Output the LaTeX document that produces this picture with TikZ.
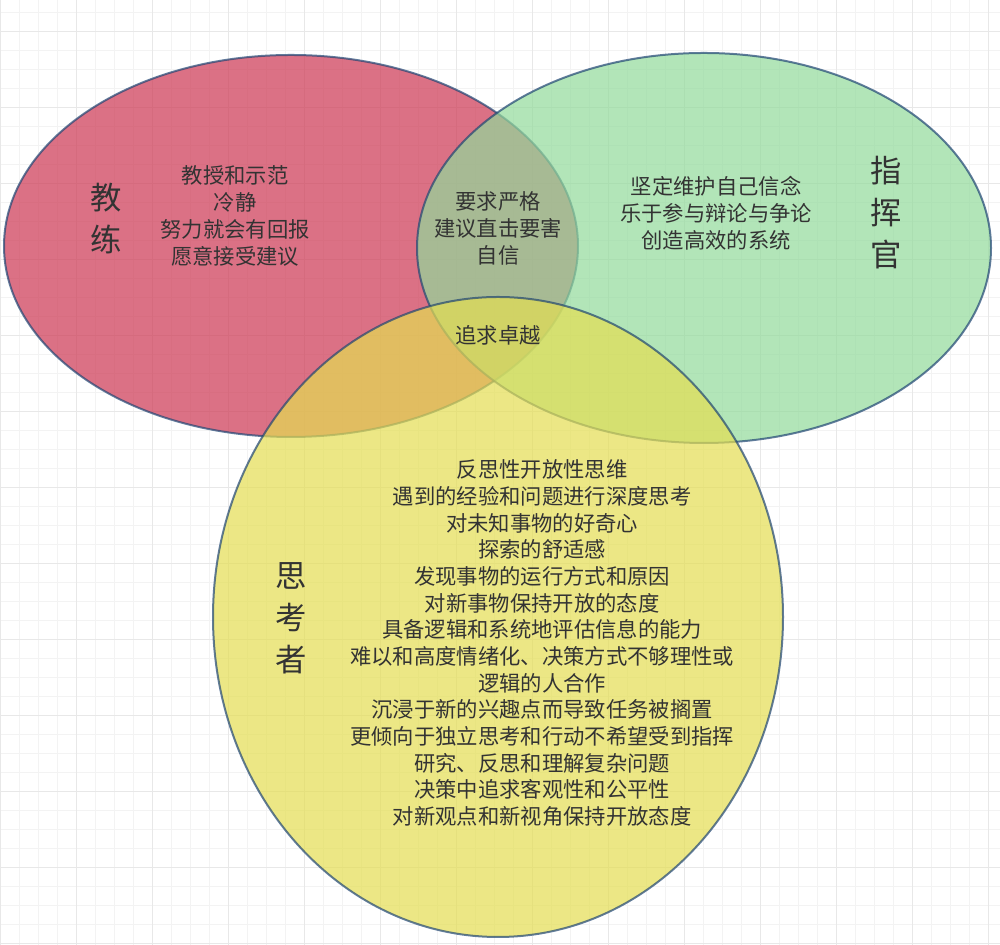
\documentclass[tikz,border=0pt]{standalone}
\usepackage{fontspec}
\setmainfont{Noto Sans CJK SC}
\usetikzlibrary{shapes.geometric,positioning}
\definecolor{coachred}{HTML}{CD3652}
\definecolor{cmdgreen}{HTML}{92DA9B}
\definecolor{thinkyellow}{HTML}{E4DE52}
\definecolor{rimblue}{HTML}{1F4573}
\definecolor{textgray}{HTML}{333333}
\definecolor{gridminor}{HTML}{F3F3F3}
\definecolor{gridmajor}{HTML}{E8E8E8}
\tikzset{
  setblob/.style={
    ellipse,
    draw=rimblue,
    line width=1.5pt,
    opacity=0.7,
    inner sep=0pt
  },
  roletitle/.style={
    text=textgray,
    align=center,
    font=\fontsize{23.5}{31.5}\selectfont
  },
  traits/.style={
    text=textgray,
    align=center,
    font=\fontsize{16}{20.2}\selectfont
  }
}

\begin{document}
\begin{tikzpicture}[x=0.75pt, y=0.75pt]
    \useasboundingbox (0,0) rectangle (1000,945);
    \fill[white] (0,0) rectangle (1000,945);
    % background grid
    \foreach \x in {0,19,...,1000}
      \draw[gridminor, line width=0.75pt] (\x,0) -- (\x,945);
    \foreach \y in {1,20,...,945}
      \draw[gridminor, line width=0.75pt] (0,\y) -- (1000,\y);
    \foreach \x in {0,76,...,1000}
      \draw[gridmajor, line width=0.75pt] (\x,0) -- (\x,945);
    \foreach \y in {1,77,...,945}
      \draw[gridmajor, line width=0.75pt] (0,\y) -- (1000,\y);
    % the three sets
    \node[setblob, fill=coachred, minimum width=430.5pt, minimum height=286.5pt] (coach) at (291,699) {};
    \node[setblob, fill=cmdgreen, minimum width=430.5pt, minimum height=292.5pt] (commander) at (704,697) {};
    \node[setblob, fill=thinkyellow, minimum width=427.5pt, minimum height=480pt] (thinker) at (498,328) {};
    % labels
    \node[roletitle] (coachname) at (106,726) {教\\练};
    \node[traits] (coachtraits) at (235,729) {教授和示范\\冷静\\努力就会有回报\\愿意接受建议};
    \node[traits] (coachcmd) at (498,717) {要求严格\\建议直击要害\\自信};
    \node[traits] (allthree) at (498,610) {追求卓越};
    \node[traits] (cmdtraits) at (716,732) {坚定维护自己信念\\乐于参与辩论与争论\\创造高效的系统};
    \node[roletitle] (cmdname) at (886,732) {指\\挥\\官};
    \node[roletitle] (thinkname) at (291,327) {思\\考\\者};
    \node[traits, font=\fontsize{16}{20}\selectfont] (thinktraits) at (542,302) {反思性开放性思维\\遇到的经验和问题进行深度思考\\对未知事物的好奇心\\探索的舒适感\\发现事物的运行方式和原因\\对新事物保持开放的态度\\具备逻辑和系统地评估信息的能力\\难以和高度情绪化、决策方式不够理性或\\逻辑的人合作\\沉浸于新的兴趣点而导致任务被搁置\\更倾向于独立思考和行动不希望受到指挥\\研究、反思和理解复杂问题\\决策中追求客观性和公平性\\对新观点和新视角保持开放态度};
\end{tikzpicture}
\end{document}
